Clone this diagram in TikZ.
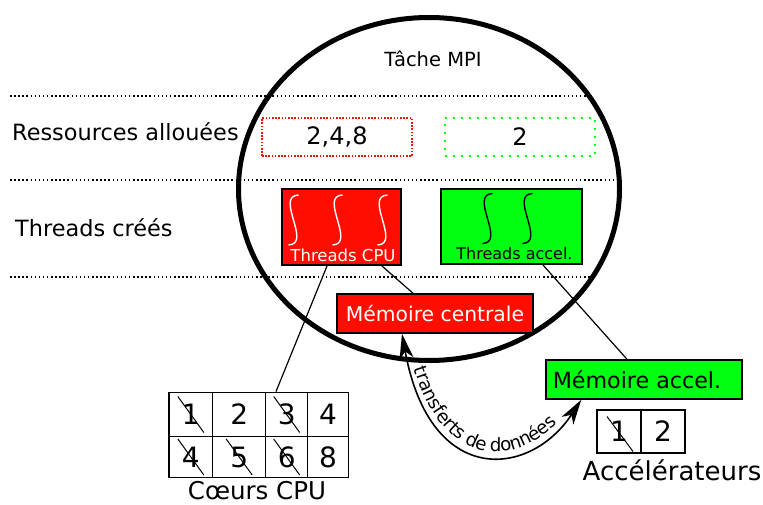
\documentclass[tikz,border=0pt]{standalone}
\usepackage{fontspec}
\setmainfont{DejaVu Sans}
\usetikzlibrary{shapes.geometric,arrows.meta,decorations.text,calc}
\definecolor{cpured}{RGB}{255,14,0}
\definecolor{accgreen}{RGB}{0,255,16}
\newcommand{\fsz}[1]{\fontsize{#1}{#1}\selectfont}
\tikzset{bigtip/.tip={Stealth[length=25pt,width=14pt,inset=7pt]}}
\begin{document}
\begin{tikzpicture}[x=1pt,y=-1pt,
  lbl/.style={inner sep=0pt},
  sepline/.style={line width=1.5pt, dash pattern=on 1.5pt off 2.6pt},
  resbox/.style={line width=2pt, minimum width=150pt, minimum height=38pt, inner sep=0pt, font=\fsz{24}},
  thrbox/.style={draw=black, line width=2pt, inner sep=0pt},
  membox/.style={draw=black, line width=1.5pt, minimum width=196pt, minimum height=39pt, inner sep=0pt},
  cell/.style={draw=black, line width=1.5pt, inner sep=0pt, font=\fsz{28}},
  strike/.style={line width=1pt},
  conn/.style={line width=1.2pt},
  squig/.pic={\draw[line width=1.4pt, #1] (5,-25) .. controls (-19,-24) and (19,24) .. (-5,25);}
]
\useasboundingbox (0,0) rectangle (763,505);

% separators
\coordinate (s1a) at (10,96);  \coordinate (s1b) at (588,96);
\coordinate (s2a) at (10,180); \coordinate (s2b) at (617,180);
\coordinate (s3a) at (10,277); \coordinate (s3b) at (593,277);
\draw[sepline] (s1a) -- (s1b);
\draw[sepline] (s2a) -- (s2b);
\draw[sepline] (s3a) -- (s3b);

% MPI task
\node[ellipse, draw, line width=5pt, minimum width=381pt, minimum height=343pt, inner sep=0pt] (task) at (429,189) {};
\node[lbl, font=\fsz{19.5}] (tasklbl) at (433,59) {Tâche MPI};

% row labels
\node[lbl, anchor=west, font=\fsz{22.4}] (reslbl) at (12,132) {Ressources allouées};
\node[lbl, anchor=west, font=\fsz{22.4}] (thrlbl) at (15,228) {Threads créés};

% allocated resources
\node[resbox, draw=cpured, dash pattern=on 1.6pt off 1.6pt] (rescpu) at (337,137) {2,4,8};
\node[resbox, draw=accgreen, dash pattern=on 2pt off 6pt] (resacc) at (520,137) {2};

% threads
\node[thrbox, fill=cpured, minimum width=119pt, minimum height=76pt] (thrcpu) at (341.5,227) {};
\node[thrbox, fill=accgreen, minimum width=141pt, minimum height=75pt] (thracc) at (511.5,226.5) {};
\pic at (293.5,220) {squig=white};
\pic at (337.5,220) {squig=white};
\pic at (382.5,220) {squig=white};
\pic at (487.5,218.5) {squig=black};
\pic at (527.5,218.5) {squig=black};
\node[lbl, text=white, font=\fsz{16.5}] (thrcpulbl) at (343,255) {Threads CPU};
\node[lbl, font=\fsz{16}] (thracclbl) at (514.5,254) {Threads accel.};

% memories
\node[membox, fill=cpured, text=white, font=\fsz{20.3}] (memc) at (435,313.5) {Mémoire centrale};
\node[membox, fill=accgreen, font=\fsz{22.2}] (mema) at (644,379.5) {\hspace*{-14pt}Mémoire accel.};

% CPU cores
\node[cell, minimum width=43.7pt, minimum height=44.4pt] (c1) at (190.85,414.5) {1};
\node[cell, minimum width=53pt,   minimum height=44.4pt] (c2) at (239.2,414.5) {2};
\node[cell, minimum width=42pt,   minimum height=44.4pt] (c3) at (286.7,414.5) {3};
\node[cell, minimum width=40.6pt, minimum height=44.4pt] (c4) at (328,414.5) {4};
\node[cell, minimum width=43.7pt, minimum height=40.6pt] (c5) at (190.85,457) {4};
\node[cell, minimum width=53pt,   minimum height=40.6pt] (c6) at (239.2,457) {5};
\node[cell, minimum width=42pt,   minimum height=40.6pt] (c7) at (286.7,457) {6};
\node[cell, minimum width=40.6pt, minimum height=40.6pt] (c8) at (328,457) {8};
\foreach \c in {c1,c3,c5,c6,c7}
  \draw[strike] ([shift={(-13,-18)}]\c.center) -- ([shift={(13,18)}]\c.center);
\node[lbl, font=\fsz{24.5}] (coreslbl) at (257,491) {Cœurs CPU};

% accelerators
\node[cell, minimum width=44pt, minimum height=43pt] (a1) at (619,431.5) {1};
\node[cell, minimum width=44pt, minimum height=43pt] (a2) at (663,431.5) {2};
\draw[strike] ([shift={(-12,-15)}]a1.center) -- ([shift={(14,20)}]a1.center);
\node[lbl, font=\fsz{26}] (acclbl) at (672,470) {Accélérateurs};

% connectors
\draw[conn] ([xshift=-14.5pt]thrcpu.south) -- ([xshift=-10.7pt]c3.north);
\draw[conn] ([xshift=40.5pt]thrcpu.south) -- ([xshift=-22pt]memc.north);
\draw[conn] ([xshift=31.5pt]thracc.south) -- ([xshift=-17pt]mema.north);

% data transfers
\coordinate (ta) at ([xshift=-33pt]memc.south);
\coordinate (tb) at ([xshift=36pt]mema.south west);
\draw[line width=1.6pt, {bigtip}-{bigtip}] (ta) .. controls (430,488) and (530,478) .. (tb);
{\fsz{18.3}
\path[decorate, decoration={text along path, text={transferts de données}, text align={left indent=37pt}, raise=3.5pt}]
  (ta) .. controls (430,488) and (530,478) .. (tb);
}
\end{tikzpicture}
\end{document}
